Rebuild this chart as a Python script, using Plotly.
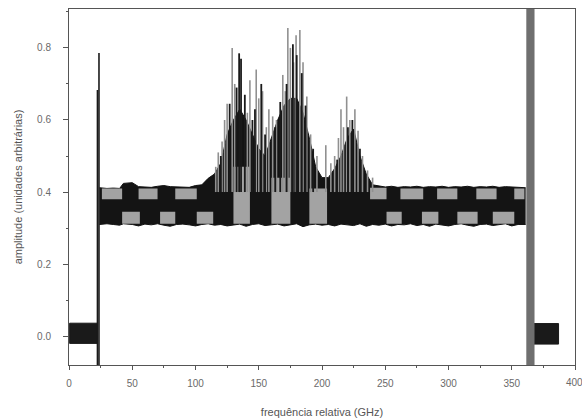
import plotly.graph_objects as go

# ---- data ----
# main band (black body): frequency, lower and upper envelope
band_x = [24, 30, 35, 40, 43, 50, 55, 60, 65, 70, 75, 80, 85, 90, 95, 100, 105, 110,
          115, 120, 125, 130, 135, 140, 145, 150, 155, 160, 165, 170, 175, 180, 185,
          190, 195, 200, 205, 210, 215, 220, 225, 230, 235, 240, 245, 250, 255, 260,
          265, 270, 275, 280, 285, 290, 295, 300, 305, 310, 315, 320, 325, 330, 335,
          340, 345, 350, 355, 361]
band_lo = [0.310, 0.312, 0.310, 0.308, 0.312, 0.310, 0.306, 0.311, 0.309, 0.312, 0.308,
           0.305, 0.310, 0.311, 0.309, 0.306, 0.310, 0.312, 0.308, 0.310, 0.306, 0.309,
           0.311, 0.305, 0.310, 0.312, 0.307, 0.309, 0.311, 0.306, 0.310, 0.312, 0.304,
           0.309, 0.311, 0.308, 0.310, 0.306, 0.311, 0.309, 0.307, 0.312, 0.305, 0.310,
           0.308, 0.311, 0.306, 0.310, 0.309, 0.312, 0.307, 0.310, 0.305, 0.311, 0.309,
           0.306, 0.310, 0.312, 0.308, 0.305, 0.310, 0.311, 0.307, 0.309, 0.312, 0.306,
           0.310, 0.310]
band_hi = [0.412, 0.410, 0.411, 0.410, 0.424, 0.426, 0.415, 0.414, 0.413, 0.416, 0.418,
           0.415, 0.414, 0.415, 0.413, 0.418, 0.420, 0.438, 0.450, 0.480, 0.560, 0.600,
           0.630, 0.600, 0.560, 0.520, 0.500, 0.550, 0.600, 0.640, 0.660, 0.660, 0.620,
           0.550, 0.470, 0.440, 0.440, 0.465, 0.500, 0.550, 0.575, 0.500, 0.450, 0.420,
           0.416, 0.414, 0.416, 0.413, 0.415, 0.414, 0.416, 0.413, 0.415, 0.414, 0.416,
           0.413, 0.415, 0.414, 0.416, 0.413, 0.415, 0.414, 0.416, 0.413, 0.415, 0.414,
           0.413, 0.412]

# light grey patches inside the band: start, end, bottom, top
patch_x0 = [26, 55, 84, 238, 262, 291, 322, 352, 42, 72, 101, 251, 279, 307, 335, 130, 160, 190]
patch_x1 = [42, 70, 101, 251, 280, 307, 338, 360, 56, 84, 114, 263, 292, 323, 352, 143, 175, 204]
patch_y0 = [0.380, 0.380, 0.380, 0.380, 0.380, 0.380, 0.380, 0.380,
            0.312, 0.312, 0.312, 0.312, 0.312, 0.312, 0.312, 0.312, 0.312, 0.312]
patch_y1 = [0.410, 0.410, 0.410, 0.412, 0.410, 0.410, 0.410, 0.410,
            0.345, 0.345, 0.345, 0.345, 0.345, 0.345, 0.345, 0.470, 0.440, 0.410]

# grey spikes: frequency and peak amplitude
gspk_x = [116, 118, 121, 123, 125, 129, 131, 141, 143, 148, 150, 153, 156, 158, 161,
          164, 169, 171, 173, 175, 177.5, 179.5, 182.5, 185, 188, 191, 196, 203, 207,
          210, 213, 215, 217, 219.5, 222, 226, 228.5, 232, 236, 240]
gspk_y = [0.47, 0.51, 0.54, 0.60, 0.645, 0.80, 0.70, 0.62, 0.71, 0.74, 0.66, 0.68, 0.58,
          0.63, 0.61, 0.60, 0.725, 0.68, 0.855, 0.80, 0.76, 0.835, 0.85, 0.76, 0.665, 0.56,
          0.50, 0.53, 0.48, 0.50, 0.55, 0.63, 0.58, 0.665, 0.60, 0.63, 0.57, 0.50, 0.46, 0.44]
# dark spikes
kspk_x = [120, 127, 132.5, 134.5, 136, 139, 145, 147, 152, 155, 163, 167, 172, 177, 180,
          184, 187, 193, 212, 220.5, 224, 230]
kspk_y = [0.50, 0.645, 0.69, 0.785, 0.77, 0.67, 0.60, 0.63, 0.70, 0.56, 0.58, 0.65, 0.70,
          0.81, 0.78, 0.73, 0.64, 0.52, 0.49, 0.58, 0.60, 0.52]
spike_base = 0.40

# edge spikes near 23 GHz
edge_x = [22.5, 23.7]
edge_y = [0.683, 0.786]

# low-level noise blocks outside the band: start, end, bottom, top
low_x0 = [0.5, 367.5]
low_x1 = [22.5, 387.0]
low_y0 = [-0.020, -0.022]
low_y1 = [0.036, 0.035]

# grey vertical bar near 365 GHz
vbar_x0 = [361.5]
vbar_x1 = [368.0]

x_ticks = [0, 50, 100, 150, 200, 250, 300, 350, 400]
y_ticks = [0.0, 0.2, 0.4, 0.6, 0.8]

y_lo, y_hi = -0.08, 0.908

fig = go.Figure()


def rects(x0s, x1s, y0s, y1s):
    xs, ys = [], []
    for a, b, c, d in zip(x0s, x1s, y0s, y1s):
        xs += [a, b, b, a, a, None]
        ys += [c, c, d, d, c, None]
    return xs, ys


def seg(xs, ys, base):
    sx, sy = [], []
    for x, y in zip(xs, ys):
        sx += [x, x, None]
        sy += [base, y, None]
    return sx, sy


# black band
fig.add_trace(go.Scatter(x=band_x, y=band_lo, mode="lines", line=dict(color="#111", width=1),
                         showlegend=False, hoverinfo="skip"))
fig.add_trace(go.Scatter(x=band_x, y=band_hi, mode="lines", line=dict(color="#111", width=1),
                         fill="tonexty", fillcolor="#141414",
                         showlegend=False, hoverinfo="skip"))

# grey patches
rx, ry = rects(patch_x0, patch_x1, patch_y0, patch_y1)
fig.add_trace(go.Scatter(x=rx, y=ry, mode="lines", line=dict(width=0, color="#a6a6a6"),
                         fill="toself", fillcolor="#a3a3a3", showlegend=False, hoverinfo="skip"))

# low noise blocks
rx, ry = rects(low_x0, low_x1, low_y0, low_y1)
fig.add_trace(go.Scatter(x=rx, y=ry, mode="lines", line=dict(width=1, color="#1a1a1a"),
                         fill="toself", fillcolor="#1a1a1a", showlegend=False, hoverinfo="skip"))

# grey vertical bar
rx, ry = rects(vbar_x0, vbar_x1, [y_lo], [y_hi])
fig.add_trace(go.Scatter(x=rx, y=ry, mode="lines", line=dict(width=0, color="#6f6f6f"),
                         fill="toself", fillcolor="#6f6f6f", showlegend=False, hoverinfo="skip"))

sx, sy = seg(gspk_x, gspk_y, spike_base)
fig.add_trace(go.Scatter(x=sx, y=sy, mode="lines", line=dict(color="#909090", width=1.6),
                         showlegend=False, hoverinfo="skip"))
sx, sy = seg(kspk_x, kspk_y, spike_base)
fig.add_trace(go.Scatter(x=sx, y=sy, mode="lines", line=dict(color="#1a1a1a", width=1.8),
                         showlegend=False, hoverinfo="skip"))
sx, sy = seg(edge_x, edge_y, y_lo)
fig.add_trace(go.Scatter(x=sx, y=sy, mode="lines", line=dict(color="#1a1a1a", width=1.6),
                         showlegend=False, hoverinfo="skip"))

font_fam = "Liberation Sans, Arial, sans-serif"
tick_font = dict(family=font_fam, size=10, color="#6a6a6a")

# last x label sits at the very edge of the page; place it as an annotation
fig.add_annotation(x=x_ticks[-1], y=0, xref="x", yref="paper", yshift=-10, xshift=-1,
                   yanchor="top", text=str(x_ticks[-1]), showarrow=False, font=tick_font)

fig.update_layout(
    width=582, height=419,
    margin=dict(l=69, r=7, t=9, b=54, autoexpand=False),
    paper_bgcolor="white", plot_bgcolor="white",
    xaxis=dict(range=[0, 400], tickmode="array", tickvals=x_ticks,
               ticktext=[str(v) for v in x_ticks[:-1]] + [""],
               ticks="outside", ticklen=4, tickcolor="#555", showline=True, linecolor="#555",
               linewidth=1, mirror=True, showgrid=False, zeroline=False, tickfont=tick_font,
               automargin=False, ticklabelstandoff=5,
               minor=dict(dtick=25, ticks="outside", ticklen=2, tickcolor="#555", showgrid=False),
               title=dict(text="frequência relativa (GHz)", standoff=20,
                          font=dict(family=font_fam, size=11, color="#555"))),
    yaxis=dict(range=[y_lo, y_hi], tickmode="array", tickvals=y_ticks,
               ticktext=["%.1f" % v for v in y_ticks],
               ticks="outside", ticklen=5, tickcolor="#555", showline=True, linecolor="#555",
               linewidth=1, mirror=True, showgrid=False, zeroline=False, tickfont=tick_font,
               automargin=False, ticklabelstandoff=10,
               minor=dict(dtick=0.1, ticks="outside", ticklen=2, tickcolor="#555", showgrid=False),
               title=dict(text="amplitude (unidades arbitrárias)", standoff=12,
                          font=dict(family=font_fam, size=11, color="#555"))),
)

fig.write_html("out.html", config={"displayModeBar": False},
               post_script="document.body.style.margin='0';")
